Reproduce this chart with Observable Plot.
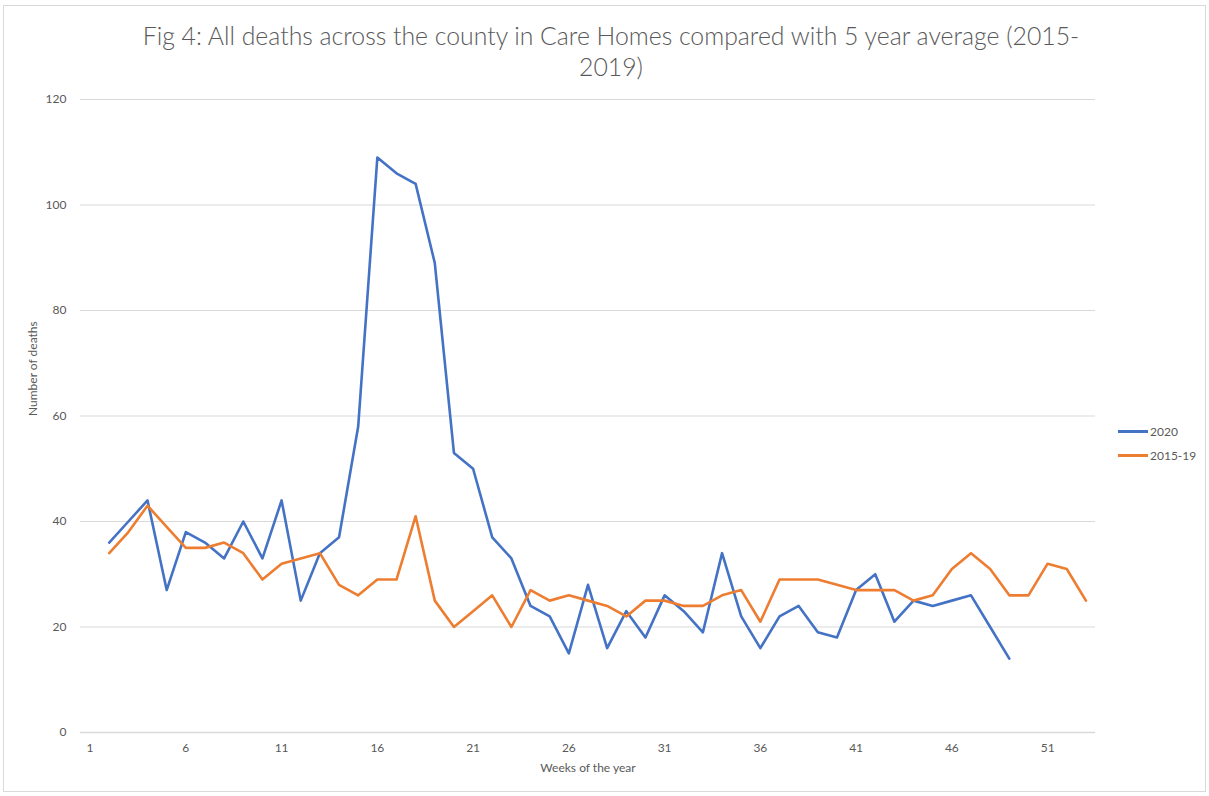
<!DOCTYPE html>
<html>
<head>
<meta charset="utf-8">
<script src="https://cdn.jsdelivr.net/npm/d3@7"></script>
<script src="https://cdn.jsdelivr.net/npm/@observablehq/plot@0.6"></script>
<style>
  html, body { margin: 0; padding: 0; background: #fff; }
  #chart { position: relative; width: 1209px; height: 796px; overflow: hidden; font-family: Lato, "Open Sans", sans-serif; }
  #frame { position: absolute; left: 3px; top: 5px; width: 1201px; height: 785px; border: 1px solid #d9d9d9; pointer-events: none; }
  #title { position: absolute; left: 0; top: 20px; width: 1222px; text-align: center; font-size: 24.8px; font-weight: 300; line-height: 31px; color: #595959; }
  #legend { position: absolute; left: 1118px; top: 419px; font-size: 12px; color: #595959; }
  .item { display: flex; align-items: center; height: 24px; }
  .swatch { width: 30px; height: 3px; margin-right: 2px; }
  #plot { position: absolute; left: 0; top: 0; }
</style>
</head>
<body>
<div id="chart">
  <div id="plot"></div>
  <div id="title">Fig 4: All deaths across the county in Care Homes compared with 5 year average (2015-<br>2019)</div>
  <div id="legend"></div>
  <div id="frame"></div>
</div>
<script>
// Weekly deaths in care homes: 2020 (weeks 2–49) and the 2015–19 average (weeks 2–53)
const weeks2020 = d3.range(2, 50);
const deaths2020 = [36, 40, 44, 27, 38, 36, 33, 40, 33, 44,
                    25, 34, 37, 58, 109, 106, 104, 89, 53, 50,
                    37, 33, 24, 22, 15, 28, 16, 23, 18, 26,
                    23, 19, 34, 22, 16, 22, 24, 19, 18, 27,
                    30, 21, 25, 24, 25, 26, 20, 14];
const weeksAvg = d3.range(2, 54);
const deathsAvg = [34, 38, 43, 39, 35, 35, 36, 34, 29, 32,
                   33, 34, 28, 26, 29, 29, 41, 25, 20, 23,
                   26, 20, 27, 25, 26, 25, 24, 22, 25, 25,
                   24, 24, 26, 27, 21, 29, 29, 29, 28, 27,
                   27, 27, 25, 26, 31, 34, 31, 26, 26, 32,
                   31, 25];
const seriesNames = ["2020", "2015-19"];
const seriesColors = ["#4472C4", "#ED7D31"];
const xTicks = [1, 6, 11, 16, 21, 26, 31, 36, 41, 46, 51];
const yTicks = [0, 20, 40, 60, 80, 100, 120];

const rows2020 = weeks2020.map((w, i) => ({week: w, deaths: deaths2020[i]}));
const rowsAvg = weeksAvg.map((w, i) => ({week: w, deaths: deathsAvg[i]}));

const chart = Plot.plot({
  width: 1209,
  height: 796,
  marginLeft: 80,
  marginRight: 114,
  marginTop: 99,
  marginBottom: 64,
  style: {fontFamily: "Lato, 'Open Sans', sans-serif", fontSize: "12px", color: "#595959", background: "transparent"},
  x: {domain: [0.5, 53.5]},
  y: {domain: [0, 120]},
  marks: [
    Plot.gridY(yTicks.filter(d => d > 0), {stroke: "#d9d9d9", strokeOpacity: 1, strokeWidth: 1}),
    Plot.ruleY([0], {stroke: "#d9d9d9", strokeWidth: 1.6}),
    Plot.axisY(yTicks, {tickSize: 0, tickPadding: 14, label: null, fill: "#595959"}),
    Plot.axisX(xTicks, {tickSize: 0, tickPadding: 11, label: null, fill: "#595959"}),
    Plot.text(["Number of deaths"], {frameAnchor: "left", rotate: -90, dx: -47, fill: "#595959", fontSize: 12}),
    Plot.text(["Weeks of the year"], {frameAnchor: "bottom", dy: 39, fill: "#595959", fontSize: 12}),
    Plot.line(rows2020, {x: "week", y: "deaths", stroke: seriesColors[0], strokeWidth: 2.6, strokeLinejoin: "round", strokeLinecap: "round"}),
    Plot.line(rowsAvg, {x: "week", y: "deaths", stroke: seriesColors[1], strokeWidth: 2.6, strokeLinejoin: "round", strokeLinecap: "round"})
  ]
});
document.getElementById("plot").appendChild(chart);

// Legend entries
const legend = document.getElementById("legend");
seriesNames.forEach((name, i) => {
  const item = document.createElement("div");
  item.className = "item";
  const sw = document.createElement("span");
  sw.className = "swatch";
  sw.style.background = seriesColors[i];
  const label = document.createElement("span");
  label.textContent = name;
  item.appendChild(sw);
  item.appendChild(label);
  legend.appendChild(item);
});
</script>
</body>
</html>
